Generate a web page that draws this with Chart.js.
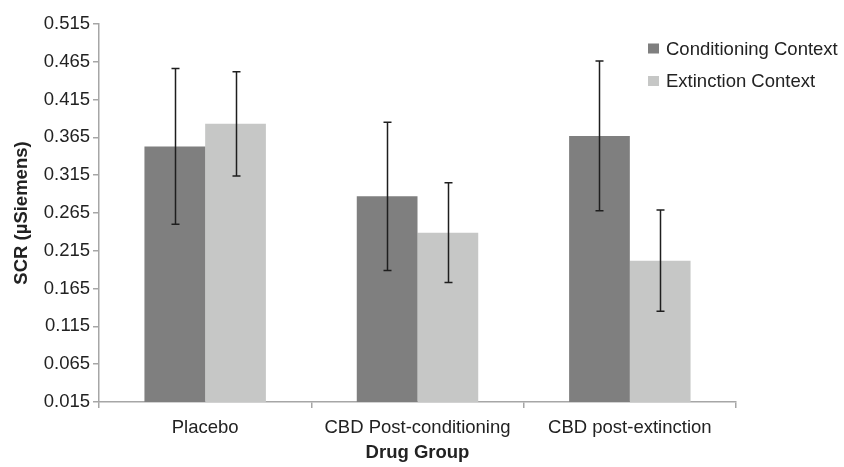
<!DOCTYPE html>
<html>
<head>
<meta charset="utf-8">
<script src="https://cdn.jsdelivr.net/npm/chart.js@4/dist/chart.umd.min.js"></script>
<style>
  html, body { margin: 0; padding: 0; background: #fff; }
  #wrap { position: relative; width: 844px; height: 467px; }
</style>
</head>
<body>
<div id="wrap"><canvas id="scrChart" width="844" height="467"></canvas></div>
<script>
// --- Data ---
const groups = ['Placebo', 'CBD Post-conditioning', 'CBD post-extinction'];
const seriesNames = ['Conditioning Context', 'Extinction Context'];
const conditioningMeans = [0.353, 0.287, 0.367];
const extinctionMeans = [0.383, 0.239, 0.202];
const conditioningErr = [0.103, 0.098, 0.099];
const extinctionErr = [0.069, 0.066, 0.067];
const yTicks = [0.015, 0.065, 0.115, 0.165, 0.215, 0.265, 0.315, 0.365, 0.415, 0.465, 0.515];

const darkGrey = '#7f7f7f';
const lightGrey = '#c6c7c6';
const axisGrey = '#a6a6a6';
const textColor = '#222222';
const fontFamily = "'Liberation Sans', Arial, Helvetica, sans-serif";

// error bars: drawn from the bar elements and the y scale
const errorBarPlugin = {
    id: 'errorBars',
    afterDatasetsDraw(chart) {
        const ctx = chart.ctx;
        const yScale = chart.scales.y;
        const errs = [conditioningErr, extinctionErr];
        ctx.save();
        ctx.strokeStyle = '#1e1e1e';
        ctx.lineWidth = 1.5;
        chart.data.datasets.forEach((ds, di) => {
            const meta = chart.getDatasetMeta(di);
            meta.data.forEach((bar, i) => {
                const v = ds.data[i];
                const e = errs[di][i];
                const x = Math.round(bar.x) + 0.5;
                const yTop = yScale.getPixelForValue(v + e);
                const yBot = yScale.getPixelForValue(v - e);
                ctx.beginPath();
                ctx.moveTo(x, yTop);
                ctx.lineTo(x, yBot);
                ctx.moveTo(x - 4, yTop);
                ctx.lineTo(x + 4, yTop);
                ctx.moveTo(x - 4, yBot);
                ctx.lineTo(x + 4, yBot);
                ctx.stroke();
            });
        });
        ctx.restore();
    }
};

// legend sits inside the plot, top right
const insideLegend = {
    id: 'insideLegend',
    afterDraw(chart) {
        const ctx = chart.ctx;
        const left = chart.chartArea.right - 88;
        const rows = [48.5, 81];
        ctx.save();
        ctx.font = '18.5px ' + fontFamily;
        ctx.textBaseline = 'middle';
        ctx.textAlign = 'left';
        chart.data.datasets.forEach((ds, i) => {
            ctx.fillStyle = ds.backgroundColor;
            ctx.fillRect(left, rows[i] - 5, 11, 10);
            ctx.fillStyle = textColor;
            ctx.fillText(ds.label, left + 18, rows[i] + 1);
        });
        ctx.restore();
    }
};

const ctx = document.getElementById('scrChart').getContext('2d');
new Chart(ctx, {
    type: 'bar',
    data: {
        labels: groups,
        datasets: [
            {
                label: seriesNames[0],
                data: conditioningMeans,
                backgroundColor: darkGrey,
                barPercentage: 1,
                categoryPercentage: 0.572
            },
            {
                label: seriesNames[1],
                data: extinctionMeans,
                backgroundColor: lightGrey,
                barPercentage: 1,
                categoryPercentage: 0.572
            }
        ]
    },
    options: {
        responsive: false,
        animation: false,
        devicePixelRatio: 1,
        layout: { padding: { top: 24, right: 108, bottom: 0, left: 0 } },
        plugins: {
            legend: { display: false },
            tooltip: { enabled: false }
        },
        scales: {
            x: {
                grid: { drawOnChartArea: false, drawTicks: true, tickLength: 6, color: axisGrey, lineWidth: 1.5, offset: true },
                border: { color: axisGrey, width: 1.5 },
                ticks: { color: textColor, padding: 9, font: { family: fontFamily, size: 18.5 }, maxRotation: 0 },
                title: {
                    display: true,
                    text: 'Drug Group',
                    color: textColor,
                    font: { family: fontFamily, size: 18.5, weight: 'bold' },
                    padding: { top: 4, bottom: 3 }
                },
                afterFit(scale) { scale.height = 65; }
            },
            y: {
                min: 0.015,
                max: 0.515,
                afterBuildTicks(scale) { scale.ticks = yTicks.map(v => ({ value: v })); },
                grid: { drawOnChartArea: false, drawTicks: true, tickLength: 6, color: axisGrey, lineWidth: 1.5 },
                border: { color: axisGrey, width: 1.5 },
                ticks: {
                    color: textColor,
                    padding: 3,
                    font: { family: fontFamily, size: 18.5 },
                    callback: (v) => Number(v).toFixed(3)
                },
                title: {
                    display: true,
                    text: 'SCR (\u00b5Siemens)',
                    color: textColor,
                    font: { family: fontFamily, size: 18.5, weight: 'bold' },
                    padding: { top: 11, bottom: 4 }
                },
                afterFit(scale) { scale.width = 99; }
            }
        }
    },
    plugins: [errorBarPlugin, insideLegend]
});
</script>
</body>
</html>
